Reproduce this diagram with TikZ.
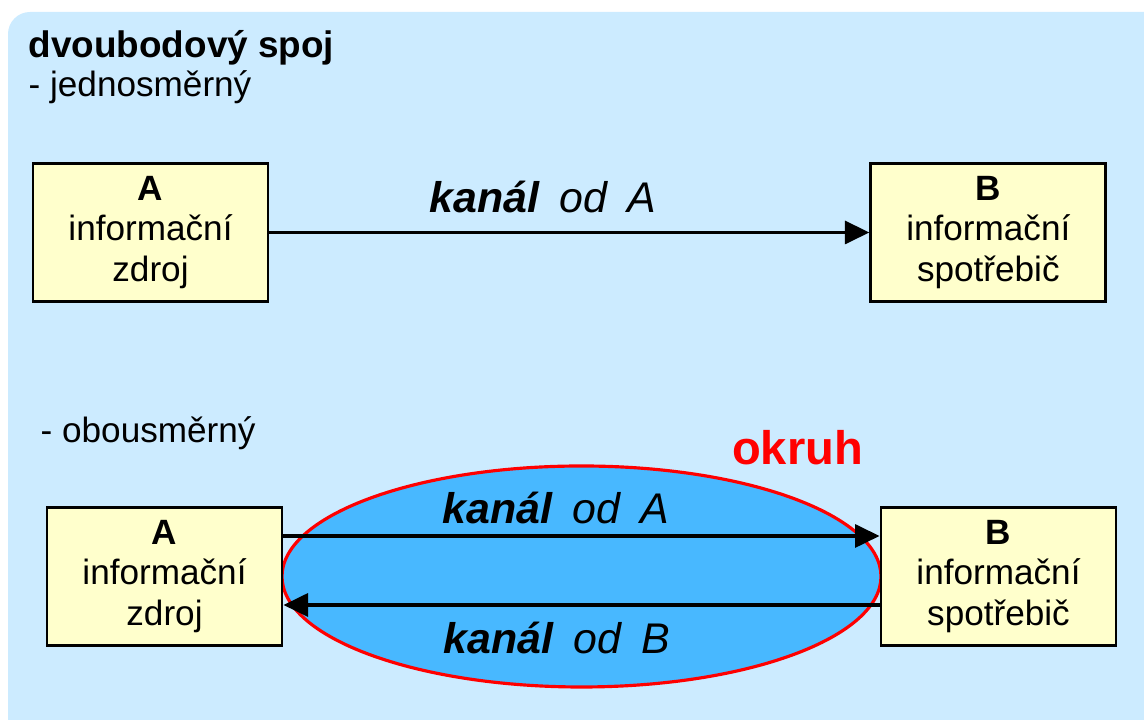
\documentclass[tikz,border=0pt]{standalone}
\usepackage{fontspec}
\setmainfont{Liberation Sans}
\usepackage{xcolor}
\usetikzlibrary{arrows.meta,positioning,shapes.geometric}
\definecolor{panel}{HTML}{CCEBFF}
\definecolor{boxfill}{HTML}{FFFFCC}
\definecolor{loopfill}{HTML}{48B8FF}

\begin{document}
\begin{tikzpicture}[font=\fontsize{10}{11.6}\selectfont,>={Triangle[length=7pt,width=6.5pt]},node distance=6cm]
\tikzstyle{blk}=[draw,line width=0.8pt,minimum width=2.35cm,minimum height=1.38cm,align=center,fill=boxfill,inner sep=0pt]
\tikzstyle{chan}=[font=\fontsize{12.2}{14}\selectfont\itshape,anchor=base,inner sep=0pt]
\tikzstyle{link}=[->,line width=1.1pt]
\tikzstyle{loopring}=[ellipse,draw=red,line width=0.9pt,fill=loopfill,minimum width=5.99cm,minimum height=2.21cm,inner sep=0pt]
\clip (0,0) rectangle (11.44,7.2);
\fill[panel,rounded corners=0.22cm] (0.08,-0.5) rectangle (12,7.08);
% heading
\node[anchor=base west,inner sep=0pt,font=\fontsize{10.5}{12}\selectfont\bfseries] (title) at (0.28,6.62) {dvoubodový spoj};
\node[anchor=base west,inner sep=0pt] (simplex) at (0.28,6.23) {- jednosměrný};
% one-way link
\node[blk] (srcA) at (1.505,4.875) {\textbf{A}\\informační\\zdroj};
\node[blk,right=of srcA] (dstB) {\textbf{B}\\informační\\spotřebič};
\draw[link] (srcA)--(dstB);
\node[chan] (chA) at (5.425,5.07) {\textbf{kanál}\hspace{0.47em}od\hspace{0.47em}A};
% two-way link
\node[anchor=base west,inner sep=0pt] (duplex) at (0.40,2.77) {- obousměrný};
\node[loopring] (circuit) at (5.815,1.435) {};
\node[blk,left=-0.85pt of circuit] (srcA2) {\textbf{A}\\informační\\zdroj};
\node[blk,right=-0.85pt of circuit] (dstB2) {\textbf{B}\\informační\\spotřebič};
\draw[link] ([yshift=0.405cm]srcA2.east)--([yshift=0.405cm]dstB2.west);
\draw[link] ([yshift=-0.285cm]dstB2.west)--([yshift=-0.285cm]srcA2.east);
\node[chan] (chA2) at (5.56,1.96) {\textbf{kanál}\hspace{0.47em}od\hspace{0.47em}A};
\node[chan] (chB2) at (5.57,0.66) {\textbf{kanál}\hspace{0.47em}od\hspace{0.47em}B};
\node[anchor=base,inner sep=0pt,text=red,font=\fontsize{13.4}{15}\selectfont\bfseries] (okruh) at (7.975,2.55) {okruh};
\end{tikzpicture}
\end{document}
